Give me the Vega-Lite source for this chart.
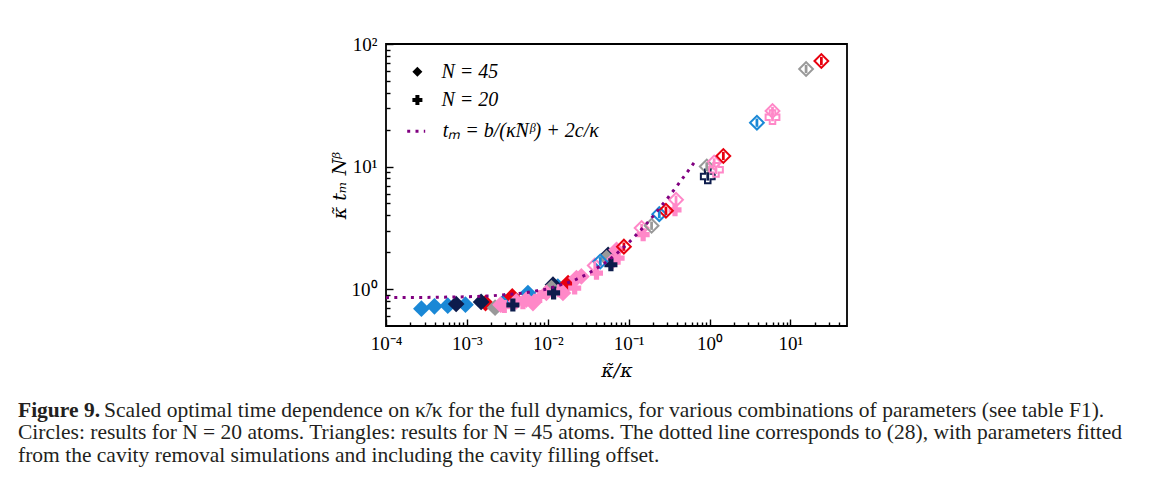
{
  "$schema": "https://vega.github.io/schema/vega-lite/v6.json",
  "width": 461,
  "height": 282,
  "autosize": {"type": "none"},
  "padding": {"left": 386, "top": 44, "right": 318, "bottom": 169},
  "background": "white",
  "title": {
    "text": "Figure 9.",
    "subtitle": [
      "\u200b\u00a0\u00a0\u00a0\u00a0\u00a0\u00a0\u00a0\u00a0\u00a0\u00a0\u00a0\u00a0\u00a0\u00a0\u00a0\u00a0Scaled optimal time dependence on κ̃/κ for the full dynamics, for various combinations of parameters (see table F1).",
      "Circles: results for N = 20 atoms. Triangles: results for N = 45 atoms. The dotted line corresponds to (28), with parameters fitted",
      "from the cavity removal simulations and including the cavity filling offset."
    ],
    "orient": "bottom",
    "anchor": "start",
    "frame": "group",
    "dx": -368,
    "offset": 20,
    "font": "Liberation Serif",
    "fontSize": 21.5,
    "fontWeight": "bold",
    "color": "#231f20",
    "lineHeight": 22.5,
    "subtitleFont": "Liberation Serif",
    "subtitleFontSize": 21.5,
    "subtitleColor": "#231f20",
    "subtitleLineHeight": 22.5,
    "subtitlePadding": -22
  },
  "datasets": {
    "pts": [
      {"x": 0.000274, "y": 0.692, "c": "blue", "n": "N = 45", "s": "f"},
      {"x": 0.000397, "y": 0.723, "c": "blue", "n": "N = 45", "s": "f"},
      {"x": 0.00058, "y": 0.732, "c": "blue", "n": "N = 45", "s": "f"},
      {"x": 0.00096, "y": 0.746, "c": "blue", "n": "N = 45", "s": "f"},
      {"x": 0.00292, "y": 0.794, "c": "blue", "n": "N = 45", "s": "f"},
      {"x": 0.00568, "y": 0.929, "c": "blue", "n": "N = 45", "s": "f"},
      {"x": 0.0133, "y": 1.046, "c": "blue", "n": "N = 45", "s": "f"},
      {"x": 0.0017, "y": 0.77, "c": "red", "n": "N = 45", "s": "f"},
      {"x": 0.00364, "y": 0.872, "c": "red", "n": "N = 45", "s": "f"},
      {"x": 0.0178, "y": 1.121, "c": "red", "n": "N = 45", "s": "f"},
      {"x": 0.000737, "y": 0.756, "c": "navy", "n": "N = 45", "s": "f"},
      {"x": 0.0015, "y": 0.785, "c": "navy", "n": "N = 45", "s": "f"},
      {"x": 0.0116, "y": 1.086, "c": "navy", "n": "N = 45", "s": "f"},
      {"x": 0.0557, "y": 1.906, "c": "navy", "n": "N = 45", "s": "f"},
      {"x": 0.00223, "y": 0.705, "c": "gray", "n": "N = 45", "s": "f"},
      {"x": 0.0111, "y": 1.02, "c": "gray", "n": "N = 45", "s": "f"},
      {"x": 0.0532, "y": 1.793, "c": "gray", "n": "N = 45", "s": "f"},
      {"x": 0.00261, "y": 0.746, "c": "pink", "n": "N = 45", "s": "f"},
      {"x": 0.00408, "y": 0.794, "c": "pink", "n": "N = 45", "s": "f"},
      {"x": 0.00543, "y": 0.82, "c": "pink", "n": "N = 45", "s": "f"},
      {"x": 0.00656, "y": 0.77, "c": "pink", "n": "N = 45", "s": "f"},
      {"x": 0.00962, "y": 0.93, "c": "pink", "n": "N = 45", "s": "f"},
      {"x": 0.0154, "y": 0.93, "c": "pink", "n": "N = 45", "s": "f"},
      {"x": 0.0226, "y": 1.23, "c": "pink", "n": "N = 45", "s": "f"},
      {"x": 0.026, "y": 1.27, "c": "pink", "n": "N = 45", "s": "f"},
      {"x": 0.062, "y": 1.67, "c": "pink", "n": "N = 45", "s": "f"},
      {"x": 0.0708, "y": 2.09, "c": "pink", "n": "N = 45", "s": "f"},
      {"x": 0.0029, "y": 0.72, "c": "pink", "n": "N = 20", "s": "f"},
      {"x": 0.00493, "y": 0.775, "c": "pink", "n": "N = 20", "s": "f"},
      {"x": 0.00794, "y": 0.872, "c": "pink", "n": "N = 20", "s": "f"},
      {"x": 0.014, "y": 0.97, "c": "pink", "n": "N = 20", "s": "f"},
      {"x": 0.0215, "y": 1.02, "c": "pink", "n": "N = 20", "s": "f"},
      {"x": 0.04, "y": 1.35, "c": "pink", "n": "N = 20", "s": "f"},
      {"x": 0.074, "y": 1.79, "c": "pink", "n": "N = 20", "s": "f"},
      {"x": 0.151, "y": 2.78, "c": "pink", "n": "N = 20", "s": "f"},
      {"x": 0.374, "y": 4.44, "c": "pink", "n": "N = 20", "s": "f"},
      {"x": 0.0037, "y": 0.742, "c": "navy", "n": "N = 20", "s": "f"},
      {"x": 0.0118, "y": 0.93, "c": "navy", "n": "N = 20", "s": "f"},
      {"x": 0.0603, "y": 1.58, "c": "navy", "n": "N = 20", "s": "f"},
      {"x": 0.0381, "y": 1.56, "c": "pink", "n": "N = 45", "s": "o"},
      {"x": 0.0446, "y": 1.68, "c": "blue", "n": "N = 45", "s": "o"},
      {"x": 0.0873, "y": 2.22, "c": "red", "n": "N = 45", "s": "o"},
      {"x": 0.1445, "y": 3.15, "c": "pink", "n": "N = 45", "s": "o"},
      {"x": 0.192, "y": 3.29, "c": "gray", "n": "N = 45", "s": "o"},
      {"x": 0.239, "y": 4.09, "c": "blue", "n": "N = 45", "s": "o"},
      {"x": 0.289, "y": 4.36, "c": "red", "n": "N = 45", "s": "o"},
      {"x": 0.385, "y": 5.36, "c": "pink", "n": "N = 45", "s": "o"},
      {"x": 0.923, "y": 10.0, "c": "gray", "n": "N = 45", "s": "o"},
      {"x": 1.14, "y": 10.8, "c": "pink", "n": "N = 45", "s": "o"},
      {"x": 1.48, "y": 12.2, "c": "red", "n": "N = 45", "s": "o"},
      {"x": 3.85, "y": 22.8, "c": "blue", "n": "N = 45", "s": "o"},
      {"x": 6.0, "y": 28.4, "c": "pink", "n": "N = 45", "s": "o"},
      {"x": 15.6, "y": 62.5, "c": "gray", "n": "N = 45", "s": "o"},
      {"x": 24.1, "y": 72.6, "c": "red", "n": "N = 45", "s": "o"},
      {"x": 0.95, "y": 8.3, "c": "navy", "n": "N = 20", "s": "o"},
      {"x": 1.2, "y": 9.4, "c": "pink", "n": "N = 20", "s": "o"},
      {"x": 6.0, "y": 25.3, "c": "pink", "n": "N = 20", "s": "o"}
    ],
    "fit": [
      {"x": 0.0001, "y": 0.852, "lbl": "tₘ = b/(κ̃Nᵝ) + 2c/κ"},
      {"x": 0.0003, "y": 0.855, "lbl": "tₘ = b/(κ̃Nᵝ) + 2c/κ"},
      {"x": 0.001, "y": 0.865, "lbl": "tₘ = b/(κ̃Nᵝ) + 2c/κ"},
      {"x": 0.002, "y": 0.881, "lbl": "tₘ = b/(κ̃Nᵝ) + 2c/κ"},
      {"x": 0.005, "y": 0.927, "lbl": "tₘ = b/(κ̃Nᵝ) + 2c/κ"},
      {"x": 0.01, "y": 1.004, "lbl": "tₘ = b/(κ̃Nᵝ) + 2c/κ"},
      {"x": 0.02, "y": 1.158, "lbl": "tₘ = b/(κ̃Nᵝ) + 2c/κ"},
      {"x": 0.03, "y": 1.312, "lbl": "tₘ = b/(κ̃Nᵝ) + 2c/κ"},
      {"x": 0.05, "y": 1.62, "lbl": "tₘ = b/(κ̃Nᵝ) + 2c/κ"},
      {"x": 0.07, "y": 1.928, "lbl": "tₘ = b/(κ̃Nᵝ) + 2c/κ"},
      {"x": 0.1, "y": 2.39, "lbl": "tₘ = b/(κ̃Nᵝ) + 2c/κ"},
      {"x": 0.15, "y": 3.16, "lbl": "tₘ = b/(κ̃Nᵝ) + 2c/κ"},
      {"x": 0.2, "y": 3.93, "lbl": "tₘ = b/(κ̃Nᵝ) + 2c/κ"},
      {"x": 0.3, "y": 5.47, "lbl": "tₘ = b/(κ̃Nᵝ) + 2c/κ"},
      {"x": 0.4, "y": 7.01, "lbl": "tₘ = b/(κ̃Nᵝ) + 2c/κ"},
      {"x": 0.5, "y": 8.55, "lbl": "tₘ = b/(κ̃Nᵝ) + 2c/κ"},
      {"x": 0.66, "y": 11.01, "lbl": "tₘ = b/(κ̃Nᵝ) + 2c/κ"}
    ]
  },
  "encoding": {
    "x": {
      "field": "x", "type": "quantitative",
      "scale": {"type": "log", "domain": [0.0001, 50], "nice": false},
      "axis": {
        "title": "κ̃/κ",
        "values": [0.0001,0.0002,0.0003,0.0004,0.0005,0.0006,0.0007,0.0008,0.0009,0.001,0.002,0.003,0.004,0.005,0.006,0.007,0.008,0.009,0.01,0.02,0.03,0.04,0.05,0.06,0.07,0.08,0.09,0.1,0.2,0.3,0.4,0.5,0.6,0.7,0.8,0.9,1,2,3,4,5,6,7,8,9,10,20,30,40],
        "labelExpr": "datum.value == 0.0001 ? '10⁻⁴' : datum.value == 0.001 ? '10⁻³' : datum.value == 0.01 ? '10⁻²' : datum.value == 0.1 ? '10⁻¹' : datum.value == 1 ? '10⁰' : datum.value == 10 ? '10¹' : ''",
        "tickSize": {"condition": {"test": "indexof([0.0001,0.001,0.01,0.1,1,10,100], datum.value) >= 0", "value": -7}, "value": -4},
        "labelPadding": 15
      }
    },
    "y": {
      "field": "y", "type": "quantitative",
      "scale": {"type": "log", "domain": [0.5, 100], "nice": false},
      "axis": {
        "title": "κ̃ tₘ Nᵝ",
        "values": [0.6,0.7,0.8,0.9,1,2,3,4,5,6,7,8,9,10,20,30,40,50,60,70,80,90,100],
        "labelExpr": "datum.value == 1 ? '10⁰' : datum.value == 10 ? '10¹' : datum.value == 100 ? '10²' : ''",
        "tickSize": {"condition": {"test": "indexof([0.0001,0.001,0.01,0.1,1,10,100], datum.value) >= 0", "value": -7}, "value": -4},
        "labelPadding": 16
      }
    }
  },
  "layer": [
    {
      "data": {"name": "pts"},
      "transform": [{"filter": "datum.s == 'f' && datum.n == 'N = 45'"}],
      "mark": {"type": "point", "filled": true, "opacity": 1, "strokeWidth": 0, "size": 280},
      "encoding": {
        "shape": {
          "field": "n", "type": "nominal",
          "scale": {"domain": ["N = 45", "N = 20"], "range": ["diamond", "cross"]},
          "legend": {
            "orient": "none",
            "legendX": 21.4,
            "legendY": 17.7,
            "title": null,
            "padding": 0,
            "rowPadding": 8.3,
            "labelOffset": 14,
            "labelFont": "Liberation Serif",
            "labelFontSize": 20,
            "labelFontStyle": "italic",
            "labelColor": "black",
            "symbolSize": 100,
            "symbolFillColor": "black",
            "symbolStrokeColor": "black",
            "symbolStrokeWidth": 0,
            "symbolOpacity": 1
          }
        },
        "color": {
          "field": "c", "type": "nominal",
          "scale": {"domain": ["blue", "navy", "red", "gray", "pink"], "range": ["#1a88d6", "#0d1c4c", "#e8000e", "#999999", "#ff88c8"]},
          "legend": null
        }
      }
    },
    {
      "data": {"name": "pts"},
      "transform": [{"filter": "datum.s == 'f' && datum.n == 'N = 20'"}],
      "mark": {"type": "point", "filled": true, "opacity": 1, "strokeWidth": 0, "size": 170},
      "encoding": {
        "shape": {"field": "n", "type": "nominal"},
        "color": {"field": "c", "type": "nominal", "legend": null}
      }
    },
    {
      "data": {"name": "pts"},
      "transform": [{"filter": "datum.s == 'o'"}],
      "mark": {"type": "point", "filled": false, "opacity": 1, "strokeWidth": 2, "fill": "transparent", "size": 190},
      "encoding": {
        "shape": {"field": "n", "type": "nominal"},
        "color": {"field": "c", "type": "nominal", "legend": null}
      }
    },
    {
      "data": {"name": "pts"},
      "transform": [{"filter": "datum.s == 'o'"}],
      "mark": {"type": "point", "filled": true, "opacity": 1, "strokeWidth": 0, "size": 190, "shape": "M-0.2,-0.6L0.2,-0.6L0.2,0.6L-0.2,0.6Z"},
      "encoding": {
        "color": {"field": "c", "type": "nominal", "legend": null}
      }
    },
    {
      "data": {"name": "fit"},
      "mark": {"type": "line", "color": "#800080", "strokeWidth": 3, "strokeCap": "butt"},
      "encoding": {
        "strokeDash": {
          "field": "lbl", "type": "nominal",
          "scale": {"range": [[3, 5.3]]},
          "legend": {
            "orient": "none",
            "legendX": 19.7,
            "legendY": 76.7,
            "title": null,
            "padding": 0,
            "labelOffset": 16,
            "labelFont": "Liberation Serif",
            "labelFontSize": 20,
            "labelFontStyle": "italic",
            "labelColor": "black",
            "symbolType": "stroke",
            "symbolSize": 324,
            "symbolStrokeColor": "#800080",
            "symbolStrokeWidth": 3,
            "symbolDash": [3, 4.5]
          }
        }
      }
    }
  ],
  "config": {
    "view": {"stroke": "black", "strokeWidth": 1.8},
    "axis": {
      "domain": false,
      "grid": false,
      "tickColor": "black",
      "tickWidth": 1.4,
      "labelFont": "Liberation Serif",
      "labelFontSize": 19,
      "labelColor": "black",
      "labelFlush": false,
      "labelOverlap": false,
      "labelBound": false,
      "titleFont": "DejaVu Serif",
      "titleFontSize": 19,
      "titleFontStyle": "italic",
      "titleFontWeight": "normal",
      "titleColor": "black"
    },
    "axisX": {"titlePadding": 5},
    "axisY": {"titlePadding": 2}
  }
}
